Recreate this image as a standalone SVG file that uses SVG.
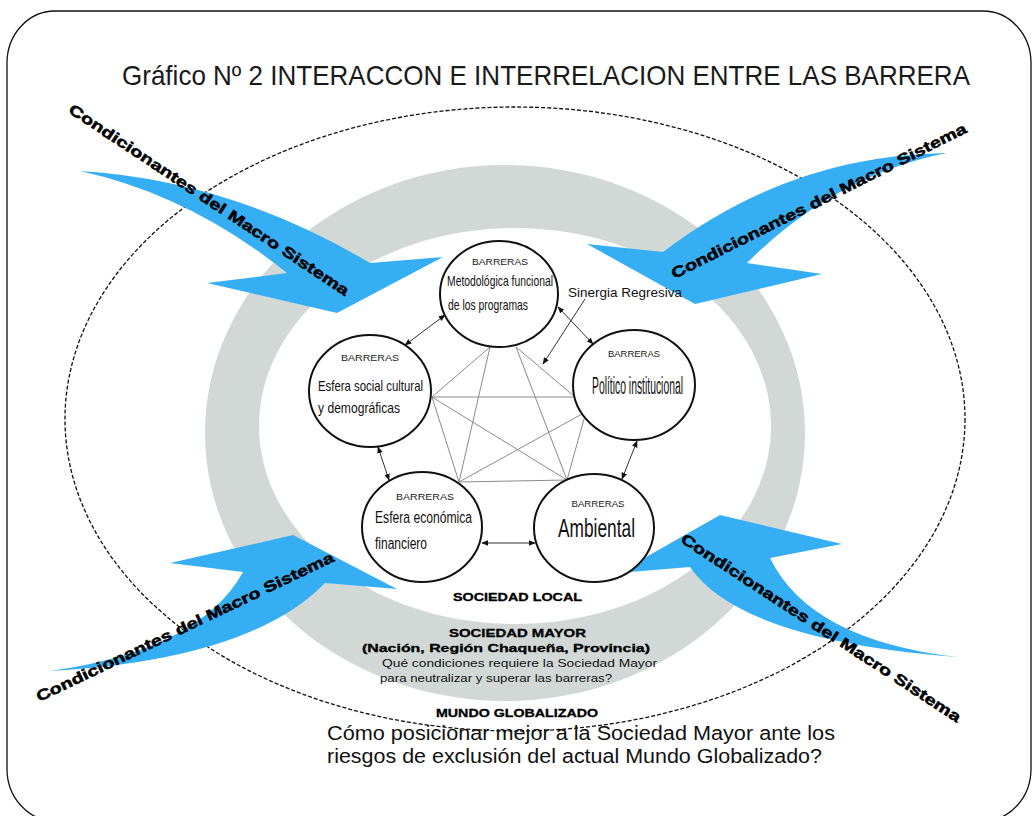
<svg xmlns="http://www.w3.org/2000/svg" width="1034" height="816" viewBox="0 0 1034 816">
<defs>
<style>
.frame{fill:#fff;stroke:#111;stroke-width:1.3}
.ring{fill:#d2d8d6}
.inner{fill:#fff}
.dash{fill:none;stroke:#111;stroke-width:1.3;stroke-dasharray:4 2}
.macro{fill:#36aef4}
.mtxt{font-family:"Liberation Sans",Arial,sans-serif;font-weight:bold;font-size:15px;fill:#000;stroke:#000;stroke-width:0.5}
.node{fill:#fff;stroke:#111;stroke-width:2}
.bar{font-family:"Liberation Sans",Arial,sans-serif;font-size:9px;fill:#222;text-anchor:middle}
.nt{font-family:"Liberation Sans Narrow","Liberation Sans",Arial,sans-serif;fill:#111}
.web{stroke:#8a8a8a;stroke-width:1;fill:none}
.link{stroke:#333;stroke-width:1;fill:none}
.title{font-family:"Liberation Sans",Arial,sans-serif;font-size:28px;fill:#1a1a1a}
.lbl{font-family:"Liberation Sans",Arial,sans-serif;fill:#111}
.blk{font-family:"Liberation Sans",Arial,sans-serif;font-weight:bold;font-size:11px;fill:#000;stroke:#000;stroke-width:0.3}
</style>
<marker id="ah" viewBox="0 0 10 10" refX="9" refY="5" markerWidth="7" markerHeight="7" markerUnits="userSpaceOnUse" orient="auto-start-reverse">
<path d="M0,1 L10,5 L0,9 z" fill="#111"/>
</marker>
</defs>

<rect class="frame" x="7" y="11" width="1024" height="810" rx="48" ry="52"/>

<text class="title" x="122" y="85" textLength="848" lengthAdjust="spacingAndGlyphs">Gráfico Nº 2 INTERACCON E INTERRELACION ENTRE LAS BARRERA</text>

<g id="background">
<ellipse class="ring" cx="505" cy="433" rx="300" ry="268"/>
<ellipse class="inner" cx="515" cy="426" rx="256" ry="198"/>
<ellipse class="dash" cx="515" cy="419" rx="450" ry="312"/>
</g>

<g id="macro-arrows">
<g id="macro-top-left">
<path class="macro" d="M80,171 Q230,180 370,263 L443,257 L337,313 L207,283 L287,273 Q190,195 80,171 Z"/>
<text class="mtxt" transform="translate(209,200) rotate(33.6)" x="0" y="0" dy="5" text-anchor="middle" textLength="333" lengthAdjust="spacingAndGlyphs">Condicionantes del Macro Sistema</text>
</g>
<g id="macro-top-right">
<path class="macro" d="M947,153 Q790,155 663,252 L587,244 L695,304 L822,274 L747,263 Q835,175 947,153 Z"/>
<text class="mtxt" transform="translate(819,201) rotate(-26.6)" x="0" y="0" dy="5" text-anchor="middle" textLength="328" lengthAdjust="spacingAndGlyphs">Condicionantes del Macro Sistema</text>
</g>
<g id="macro-bottom-left">
<path class="macro" d="M50,671 Q200,650 243,572 L170,563 L293,535 L397,589 L325,583 Q250,660 50,671 Z"/>
<text class="mtxt" transform="translate(185,627) rotate(-25.5)" x="0" y="0" dy="5" text-anchor="middle" textLength="328" lengthAdjust="spacingAndGlyphs">Condicionantes del Macro Sistema</text>
</g>
<g id="macro-bottom-right">
<path class="macro" d="M957,657 Q810,640 770,558 L842,544 L720,515 L618,573 L690,567 Q740,640 957,657 Z"/>
<text class="mtxt" transform="translate(821,628) rotate(33.2)" x="0" y="0" dy="5" text-anchor="middle" textLength="331" lengthAdjust="spacingAndGlyphs">Condicionantes del Macro Sistema</text>
</g>
</g>

<g id="connectors">
<line class="web" x1="490" y1="347" x2="432" y2="397"/>
<line class="web" x1="490" y1="347" x2="459" y2="482"/>
<line class="web" x1="516" y1="347" x2="567" y2="480"/>
<line class="web" x1="516" y1="347" x2="575" y2="397"/>
<line class="web" x1="432" y1="397" x2="575" y2="397"/>
<line class="web" x1="432" y1="397" x2="567" y2="480"/>
<line class="web" x1="432" y1="397" x2="459" y2="482"/>
<line class="web" x1="582" y1="414" x2="459" y2="482"/>
<line class="web" x1="584" y1="419" x2="567" y2="480"/>
<line class="web" x1="459" y1="482" x2="567" y2="480"/>
<line class="link" x1="445" y1="315" x2="405" y2="345" marker-start="url(#ah)" marker-end="url(#ah)"/>
<line class="link" x1="558" y1="307" x2="593" y2="344" marker-start="url(#ah)" marker-end="url(#ah)"/>
<line class="link" x1="378" y1="447" x2="389" y2="480" marker-start="url(#ah)" marker-end="url(#ah)"/>
<line class="link" x1="637" y1="441" x2="622" y2="479" marker-start="url(#ah)" marker-end="url(#ah)"/>
<line class="link" x1="482" y1="543" x2="535" y2="543" marker-start="url(#ah)" marker-end="url(#ah)"/>
<line class="link" x1="585" y1="299" x2="543" y2="364" marker-end="url(#ah)"/>
</g>

<text class="lbl" x="568" y="297" font-size="12" textLength="114" lengthAdjust="spacingAndGlyphs">Sinergia Regresiva</text>

<g id="node-metodologica">
<ellipse class="node" cx="499" cy="294" rx="59" ry="53"/>
<text class="bar" x="500" y="265" textLength="56" lengthAdjust="spacingAndGlyphs">BARRERAS</text>
<text class="nt" x="447" y="286" font-size="15" textLength="106" lengthAdjust="spacingAndGlyphs">Metodológica funcional</text>
<text class="nt" x="448" y="310" font-size="15" textLength="80" lengthAdjust="spacingAndGlyphs">de los programas</text>
</g>

<g id="node-social">
<ellipse class="node" cx="370" cy="391" rx="61" ry="56"/>
<text class="bar" x="370" y="361" textLength="58" lengthAdjust="spacingAndGlyphs">BARRERAS</text>
<text class="nt" x="318" y="391" font-size="15" textLength="105" lengthAdjust="spacingAndGlyphs">Esfera social cultural</text>
<text class="nt" x="318" y="413" font-size="15" textLength="82" lengthAdjust="spacingAndGlyphs">y demográficas</text>
</g>

<g id="node-politico">
<ellipse class="node" cx="634" cy="385" rx="61" ry="55"/>
<text class="bar" x="634" y="357" textLength="52" lengthAdjust="spacingAndGlyphs">BARRERAS</text>
<text class="nt" x="592" y="394" font-size="23" textLength="91" lengthAdjust="spacingAndGlyphs">Político institucional</text>
</g>

<g id="node-economica">
<ellipse class="node" cx="422" cy="527" rx="60" ry="55"/>
<text class="bar" x="425" y="500" textLength="58" lengthAdjust="spacingAndGlyphs">BARRERAS</text>
<text class="nt" x="375" y="523" font-size="16" textLength="97" lengthAdjust="spacingAndGlyphs">Esfera económica</text>
<text class="nt" x="375" y="549" font-size="16" textLength="52" lengthAdjust="spacingAndGlyphs">financiero</text>
</g>

<g id="node-ambiental">
<ellipse class="node" cx="594" cy="528" rx="60" ry="54"/>
<text class="bar" x="598" y="507" textLength="53" lengthAdjust="spacingAndGlyphs">BARRERAS</text>
<text class="nt" x="558" y="537" font-size="25" textLength="77" lengthAdjust="spacingAndGlyphs">Ambiental</text>
</g>

<g id="labels">
<text class="blk" x="453" y="601" textLength="129" lengthAdjust="spacingAndGlyphs">SOCIEDAD LOCAL</text>
<text class="blk" x="449" y="637" textLength="137" lengthAdjust="spacingAndGlyphs">SOCIEDAD MAYOR</text>
<text class="blk" x="362" y="652" textLength="288" lengthAdjust="spacingAndGlyphs">(Nación, Región Chaqueña, Provincia)</text>
<text class="lbl" x="382" y="667" font-size="11" textLength="275" lengthAdjust="spacingAndGlyphs">Qué condiciones requiere la Sociedad Mayor</text>
<text class="lbl" x="380" y="682" font-size="11" textLength="232" lengthAdjust="spacingAndGlyphs">para neutralizar y superar las barreras?</text>
<text class="blk" x="436" y="717" textLength="162" lengthAdjust="spacingAndGlyphs">MUNDO GLOBALIZADO</text>
<text class="lbl" x="327" y="740" font-size="20" textLength="508" lengthAdjust="spacingAndGlyphs">Cómo posicionar mejor a la Sociedad Mayor ante los</text>
<text class="lbl" x="327" y="763" font-size="20" textLength="495" lengthAdjust="spacingAndGlyphs">riesgos de exclusión del actual Mundo Globalizado?</text>
</g>
</svg>
